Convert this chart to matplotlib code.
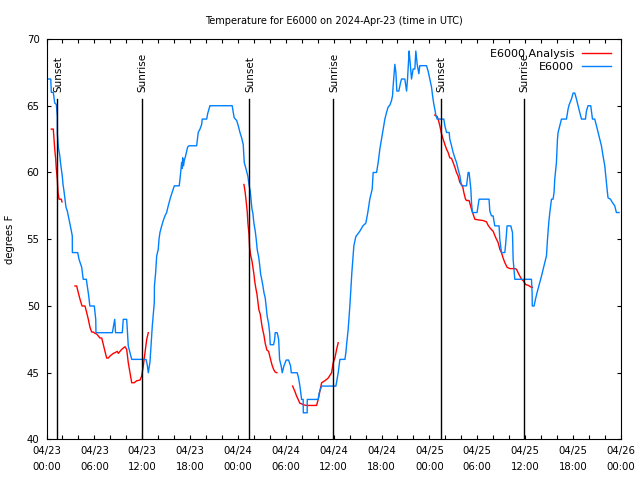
import numpy as np
import matplotlib
matplotlib.use('Agg')
import matplotlib.pyplot as plt
from matplotlib.ticker import MultipleLocator

# hours since 04/23 00:00 UTC
obs_hours = [0.00, 0.53, 0.60, 0.85, 1.03, 1.23, 1.35, 1.36, 1.48, 1.65, 1.78, 1.98, 2.07, 2.19, 2.32, 2.44, 2.61,
             2.73, 2.91, 3.07, 3.23, 3.24, 3.91, 4.07, 4.41, 4.57, 4.60, 4.99, 5.29, 5.43, 5.99, 6.17, 6.20, 8.25,
             8.55, 8.65, 9.50, 9.62, 10.05, 10.15, 10.25, 10.68, 12.47, 12.63, 12.76, 12.97, 13.10, 13.26, 13.51,
             13.53, 13.68, 13.81, 14.01, 14.10, 14.22, 14.44, 14.64, 14.85, 15.06, 15.26, 15.48, 15.69, 15.89,
             16.02, 16.64, 16.73, 16.82, 16.94, 17.02, 17.07, 17.17, 17.27, 17.44, 17.69, 17.86, 18.82, 19.02,
             19.24, 19.45, 19.52, 20.08, 20.20, 20.49, 23.28, 23.41, 23.53, 23.83, 24.04, 24.25, 24.46, 24.66,
             24.79, 25.04, 25.25, 25.38, 25.54, 25.66, 25.75, 25.88, 26.00, 26.17, 26.29, 26.42, 26.59, 26.72,
             26.84, 27.01, 27.13, 27.26, 27.42, 27.54, 27.67, 27.84, 27.97, 28.05, 28.47, 28.60, 28.67, 28.92,
             29.10, 29.22, 29.42, 29.55, 29.76, 30.05, 30.35, 30.60, 30.68, 31.43, 31.60, 31.77, 31.98, 32.18,
             32.19, 32.68, 32.69, 34.06, 34.19, 34.49, 36.28, 36.57, 36.78, 37.41, 37.53, 37.62, 37.82, 38.03,
             38.28, 38.53, 38.78, 39.28, 39.66, 40.03, 40.28, 40.53, 40.83, 40.95, 41.38, 41.58, 41.79, 42.00,
             42.21, 42.42, 42.63, 42.83, 43.05, 43.26, 43.38, 43.46, 43.67, 43.80, 43.92, 44.17, 44.39, 44.51,
             44.92, 45.14, 45.26, 45.46, 45.55, 45.76, 45.96, 46.18, 46.30, 46.47, 46.68, 46.80, 47.64, 47.84,
             48.06, 48.27, 48.40, 48.56, 48.68, 48.81, 48.97, 49.81, 49.94, 50.15, 50.48, 50.56, 50.78, 50.98,
             51.19, 51.40, 51.60, 51.82, 52.03, 52.66, 52.86, 52.98, 53.07, 53.20, 53.28, 53.40, 53.98, 54.23,
             55.16, 55.48, 55.58, 55.79, 55.99, 56.20, 56.74, 56.83, 57.04, 57.46, 57.58, 57.74, 58.21, 58.42,
             58.50, 58.71, 60.80, 60.88, 60.90, 61.13, 61.30, 61.50, 61.84, 62.06, 62.26, 62.47, 62.68, 62.81,
             62.97, 63.10, 63.31, 63.51, 63.63, 63.72, 63.93, 64.06, 64.14, 64.35, 64.56, 65.19, 65.39, 65.51,
             65.81, 66.02, 66.23, 66.44, 66.64, 66.85, 67.07, 67.57, 67.69, 67.89, 68.23, 68.45, 68.73, 68.95,
             69.15, 69.36, 69.57, 69.77, 69.99, 70.11, 70.28, 70.40, 70.70, 70.95, 71.24, 71.45, 71.78]
obs_temp = [67, 67, 66, 66, 65.2, 65.1, 64.2, 62.9, 61.9, 61.3, 60.6, 59.7, 59.1, 58.6, 57.95, 57.4, 57.1,
            56.75, 56.25, 55.75, 55.25, 54, 54, 53.5, 52.9, 52.1, 52, 52, 50.75, 50, 50, 49, 48, 48,
            49, 48, 48, 49, 49, 48, 47, 46, 46, 45.6, 45, 45.8, 47, 48.5, 50.25,
            51.5, 52.5, 53.75, 54.25, 55, 55.5, 56, 56.4, 56.75, 57, 57.5, 58, 58.4, 58.75,
            59, 59, 59.5, 60, 60.75, 60.3, 61.1, 60.5, 60.9, 61.25, 61.9, 62, 62, 63,
            63.25, 63.6, 64, 64, 64.4, 65, 65, 64.5, 64.1, 63.9, 63.5, 63, 62.6, 62.1,
            60.75, 60.2, 59.7, 59.1, 58.6, 57.9, 57.3, 56.9, 56.2, 55.6, 55, 54.2, 53.7, 53.1,
            52.4, 51.9, 51.5, 51, 50.6, 49.9, 49.2, 48.7, 48, 47.1, 47.1, 47.5, 48, 48,
            47.5, 46, 45.5, 45, 45.5, 45.95, 45.95, 45.5, 45, 45, 44.6, 44, 43, 43,
            42, 42, 43, 43, 43.5, 44, 44, 45, 46, 46, 46.5, 47.1, 48.25, 50,
            52.5, 54.5, 55.2, 55.6, 56, 56.2, 57, 58, 58.75, 60, 60, 60.75, 61.75, 62.5,
            63.25, 64, 64.5, 64.9, 65.05, 65.4, 65.75, 66.5, 68.1, 67.5, 66.1, 66.1, 66.75, 67,
            67, 66.1, 67, 69.1, 68.5, 67, 67.75, 67.75, 69.1, 68.1, 67.4, 68, 68, 67.6,
            67, 66.4, 65.75, 65.1, 64.75, 64.3, 64, 64, 63.5, 63, 63, 62.5, 62, 61.5,
            61.1, 60.75, 60.25, 59.75, 59, 59, 60, 60, 59.5, 58.75, 57.75, 57, 57, 58,
            58, 58, 57.1, 56.75, 56.75, 56, 56, 55, 54, 54, 54.75, 56, 56, 55.5,
            53.5, 52, 52, 51, 50, 50, 50.5, 51, 51.75, 52.25, 52.75, 53.25, 53.75, 55,
            56.25, 57, 58, 58, 58.5, 59.5, 60.75, 62.5, 63, 63.5, 64, 64, 64.75, 65.05,
            65.5, 65.95, 65.95, 65.5, 65, 64.5, 64, 64, 64.6, 65, 65, 64, 64, 63.5,
            63, 62.5, 62, 61.25, 60.5, 59.75, 58.75, 58.1, 58, 57.75, 57.5, 57, 57]

# analysis, nan separates the runs
ana_hours = [0.60, 0.85, 0.94, 1.03, 1.15, 1.23, 1.35, 1.44, 1.57, 1.85, 1.94, np.nan,
             3.57, 3.78, 3.98, 4.20, 4.45, 4.82, 5.04, 5.24, 5.45, 5.66, 5.86, 6.08, 6.29, 6.70, 6.92, 7.12,
             7.33, 7.54, 7.74, 7.96, 8.37, 8.58, 8.87, 9.00, 9.42, 9.84, 10.05, 10.25, 10.46, 10.68, 11.00,
             11.30, 11.72, 11.93, 12.13, 12.34, 12.56, 12.76, np.nan,
             24.75, 24.91, 25.04, 25.16, 25.25, 25.38, 25.46, 25.59, 25.75, 25.88, 26.00, 26.09, 26.22, 26.38,
             26.50, 26.63, 26.79, 26.92, 27.04, 27.26, 27.42, 27.63, 27.84, 28.05, 28.26, 28.47, 28.67, 28.88,
             np.nan,
             30.85, 31.14, 31.35, 31.55, 31.77, 31.89, 32.18, 32.61, 33.86, 34.06, 34.27, 34.49, 34.90, 35.31,
             35.74, 35.94, 36.15, 36.37, 36.57, np.nan,
             48.68, 48.97, 49.10, 49.31, 49.52, 49.72, 49.94, 50.15, 50.35, 50.56, 50.78, 50.98, 51.19, 51.40,
             51.60, 51.82, 52.16, 52.32, 52.53, 52.66, 52.98, 53.16, 53.28, 53.48, 53.70, 54.11, 54.74, 55.16,
             55.36, 55.66, 55.99, 56.33, 56.62, 56.83, 57.04, 57.24, 57.46, 57.74, 58.08, 58.71, 58.92, 59.12,
             59.34, 59.55, 59.75, 60.09, 60.38, 60.80, 60.93]
ana_temp = [63.25, 63.25, 62.5, 61.75, 61, 60.25, 59.5, 58.5, 58, 58, 57.8, np.nan,
            51.5, 51.5, 51, 50.5, 50, 50, 49.5, 49, 48.4, 48.05, 48.05, 47.95, 47.9, 47.6, 47.6, 47.1,
            46.6, 46.1, 46.1, 46.25, 46.45, 46.5, 46.6, 46.45, 46.75, 46.95, 46.75, 45.75, 45, 44.25, 44.25,
            44.4, 44.45, 44.75, 45.5, 46.5, 47.5, 48, np.nan,
            59.1, 58.5, 57.75, 57.1, 56.2, 55.4, 54.4, 53.8, 53.4, 52.9, 52.4, 51.9, 51.4, 50.9,
            50.3, 49.7, 49.4, 48.9, 48.4, 47.8, 47.2, 46.7, 46.6, 46.1, 45.6, 45.25, 45.05, 45,
            np.nan,
            44, 43.6, 43.25, 43, 42.7, 42.7, 42.6, 42.55, 42.55, 43, 43.6, 44.25, 44.4, 44.6,
            45, 45.75, 46.1, 46.75, 47.25, np.nan,
            64.3, 64.2, 64, 63.5, 62.9, 62.5, 62.1, 61.75, 61.5, 61.1, 61.05, 60.75, 60.4, 60,
            59.75, 59.25, 59, 58.5, 58, 57.9, 57.9, 57.5, 57.25, 56.9, 56.5, 56.45, 56.4, 56.3,
            56.05, 55.8, 55.6, 55.1, 54.75, 54.25, 54, 53.6, 53.25, 52.9, 52.8, 52.8, 52.75, 52.5,
            52.25, 52, 51.9, 51.6, 51.55, 51.4, 51.4]

sun_hours = [1.35, 11.93, 25.41, 35.94, 49.44, 59.87]
sun_names = ['Sunset', 'Sunrise', 'Sunset', 'Sunrise', 'Sunset', 'Sunrise']

tick_hours = list(range(0, 73, 6))
tick_labels = ['04/23\n00:00', '04/23\n06:00', '04/23\n12:00', '04/23\n18:00',
               '04/24\n00:00', '04/24\n06:00', '04/24\n12:00', '04/24\n18:00',
               '04/25\n00:00', '04/25\n06:00', '04/25\n12:00', '04/25\n18:00',
               '04/26\n00:00']

plt.rcParams['font.family'] = ['DejaVu Sans']
plt.rcParams['font.size'] = 7

fig = plt.figure(figsize=(6.4, 4.8), dpi=100)
ax = fig.add_axes([0.0727, 0.0844, 0.8973, 0.8344])

ax.plot(ana_hours, ana_temp, color='#ff0000', lw=1.0, label='E6000 Analysis')
ax.plot(obs_hours, obs_temp, color='#0080ff', lw=1.0, label='E6000')

for h, name in zip(sun_hours, sun_names):
    ax.plot([h, h], [40, 65.5], color='black', lw=1.0)
    ax.text(h + 0.1, 66.05, name, rotation=90, ha='center', va='bottom', fontsize=7.5)

ax.set_xlim(0, 72)
ax.set_ylim(40, 70)
ax.set_xticks(tick_hours)
ax.set_xticklabels(tick_labels, linespacing=1.65, fontsize=7.3)
ax.xaxis.set_minor_locator(MultipleLocator(2))
ax.set_yticks(range(40, 71, 5))
ax.tick_params(which='both', direction='in', top=True, right=True, length=3, width=0.8)
ax.tick_params(axis='x', pad=5)
ax.tick_params(axis='y', pad=5, labelsize=7.3)
for s in ax.spines.values():
    s.set_linewidth(0.8)

ax.set_ylabel('degrees F', fontsize=7.3, labelpad=8)
ax.set_title('Temperature for E6000 on 2024-Apr-23 (time in UTC)', fontsize=7, pad=11)

ax.legend(loc='upper right', frameon=False, markerfirst=False, fontsize=8,
          handlelength=2.6, handletextpad=0.7, borderaxespad=0.5, labelspacing=0.25)

fig.savefig('out.png', dpi=100)
